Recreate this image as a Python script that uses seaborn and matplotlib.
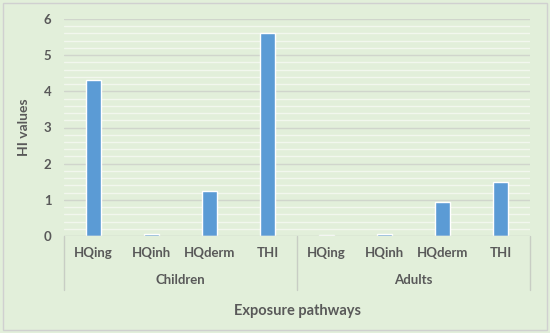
import matplotlib
matplotlib.use("Agg")
import matplotlib.pyplot as plt
import seaborn as sns
import pandas as pd
import numpy as np
from matplotlib.patches import Rectangle

groups = ["Children", "Children", "Children", "Children", "Adults", "Adults", "Adults", "Adults"]
pathways = ["HQing", "HQinh", "HQderm", "THI", "HQing", "HQinh", "HQderm", "THI"]
hi_values = [4.3, 0.05, 1.25, 5.6, 0.04, 0.06, 0.93, 1.5]
group_names = ["Children", "Adults"]
y_ticks = [0, 1, 2, 3, 4, 5, 6]

sns.set_theme(style="white")
plt.rcParams['font.family'] = ['Lato', 'DejaVu Sans']

bg = "#E2EFDA"
txt = "#595959"

fig = plt.figure(figsize=(5.5, 3.33), dpi=100, facecolor=bg)
ax = fig.add_axes([64/550, 1 - 236/333, 466/550, 217/333])
ax.set_facecolor(bg)

df = pd.DataFrame({"pos": list(range(len(hi_values))), "value": hi_values, "label": pathways})
sns.barplot(data=df, x="pos", y="value", color="#5B9BD5", saturation=1, width=0.26, ax=ax, zorder=3)

ax.set_ylim(0, 6)
ax.set_xlim(-0.5, len(hi_values) - 0.5)
ax.set_yticks(y_ticks)
ax.set_yticklabels([str(t) for t in y_ticks], color=txt, fontsize=9.5, fontweight="bold")
for v in np.arange(0.2, 6.0, 0.2):
    if abs(v - round(v)) > 1e-6:
        ax.axhline(v, color="#F2F7EE", lw=1.0, zorder=1)
for t in y_ticks[1:]:
    ax.axhline(t, color="#D0D5CC", lw=1.0, zorder=1)
ax.axhline(0, color="#C8CDC4", lw=1.0, zorder=4)
for s in ax.spines.values():
    s.set_visible(False)
ax.tick_params(axis="y", length=0, pad=9)
ax.set_xticks(range(len(hi_values)))
ax.set_xticklabels(pathways, color=txt, fontsize=9.5, fontweight="bold")
ax.tick_params(axis="x", length=0, pad=8)
ax.set_xlabel("")
ax.set_ylabel("HI values", color=txt, fontsize=10, fontweight="bold")
ax.yaxis.set_label_coords(-0.072, 0.5)

# group separators and labels
trans = ax.get_xaxis_transform()
sep_bottom = -(290 - 236) / 217
for xv in [-0.5, 3.5, 7.5]:
    ax.plot([xv, xv], [0, sep_bottom], transform=trans, color="#C8CDC4", lw=1.0, clip_on=False)
for i, g in enumerate(group_names):
    ax.text(i * 4 + 1.5, -(280 - 236) / 217, g, transform=trans, ha="center", va="center",
            color=txt, fontsize=9.5, fontweight="bold")

fig.text(297 / 550, 1 - 311 / 333, "Exposure pathways", ha="center", va="center",
         color=txt, fontsize=10.5, fontweight="bold")

fig.patches.append(Rectangle((3 / 550, 3 / 333), 544 / 550, 327 / 333, transform=fig.transFigure,
                             fill=False, edgecolor="#D0D0D0", lw=1.0))

fig.savefig("out.png", dpi=100, facecolor=bg)
